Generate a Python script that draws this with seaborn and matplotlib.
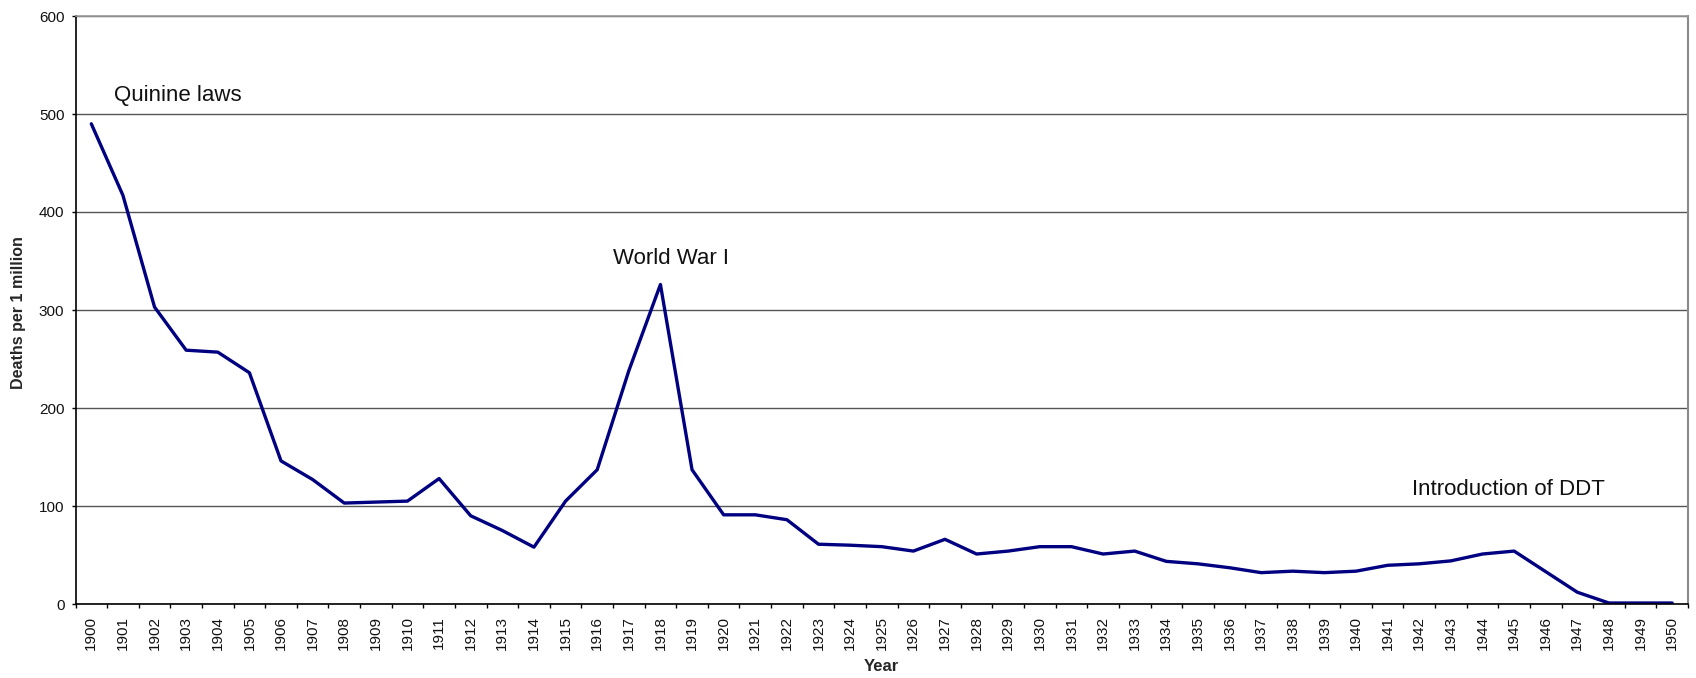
import matplotlib
matplotlib.use("Agg")
import matplotlib.pyplot as plt
import seaborn as sns
import pandas as pd
import numpy as np

years = list(range(1900, 1951))
deaths = [490, 417, 303, 259, 257, 236, 146, 127, 103, 104,
          105, 128, 90, 75, 58, 105, 137, 238, 326, 137,
          91, 91, 86, 61, 60, 58.5, 54, 66, 51, 54,
          58.5, 58.5, 51, 54, 43.5, 41, 37, 32, 33.5, 32,
          33.5, 39.5, 41, 44, 51, 54, 33, 12, 1, 1, 1]
annotations = ["Quinine laws", "World War I", "Introduction of DDT"]
annot_x = [1900.72, 1916.5, 1941.76]
annot_y = [519, 353, 117]

sns.set_style("white")
plt.rcParams['font.family'] = ['Liberation Sans', 'DejaVu Sans']

df = pd.DataFrame({"Year": years, "Deaths": deaths})

fig = plt.figure(figsize=(16.96, 6.78), dpi=100)
ax = fig.add_axes([75.5 / 1696, 1 - 604 / 678, (1688 - 75.5) / 1696, 588 / 678])

sns.lineplot(data=df, x="Year", y="Deaths", ax=ax, color="#000080", linewidth=2.4)

ax.set_xlim(1899.5, 1950.5)
ax.set_ylim(0, 600)

# y axis
ax.set_yticks(range(0, 601, 100))
ax.tick_params(axis='y', which='major', direction='out', length=3, width=1,
               color='black', labelsize=11, pad=5, left=True, labelcolor='#111111')
ax.yaxis.grid(True, color='#555555', linewidth=1)
ax.set_axisbelow(True)

# x axis: ticks at category boundaries, labels at centers
ax.set_xticks(np.arange(1899.5, 1951, 1.0))
ax.set_xticklabels([])
ax.set_xticks(years, minor=True)
ax.set_xticklabels([str(y) for y in years], minor=True, rotation=90, fontsize=11,
                   color='#111111')
ax.tick_params(axis='x', which='major', direction='out', length=3, width=1,
               color='black', bottom=True)
ax.tick_params(axis='x', which='minor', length=0, pad=8.5, bottom=True)
ax.xaxis.grid(False)

for side in ['left', 'bottom']:
    ax.spines[side].set_color('black')
    ax.spines[side].set_linewidth(1.2)
ax.spines['top'].set_color('#9a9a9a')
ax.spines['top'].set_linewidth(1.2)
ax.spines['right'].set_color('#8a8a8a')
ax.spines['right'].set_linewidth(1.5)

ax.set_xlabel("Year", fontsize=12, fontweight='bold')
ax.set_ylabel("Deaths per 1 million", fontsize=11.5, fontweight='bold')
ax.xaxis.set_label_coords(0.5, -0.093)
ax.yaxis.set_label_coords(-0.0307, 0.495)

for t, x, y in zip(annotations, annot_x, annot_y):
    ax.text(x, y, t, fontsize=16, ha='left', va='center', color='#111111')

fig.savefig("out.png", dpi=100)
